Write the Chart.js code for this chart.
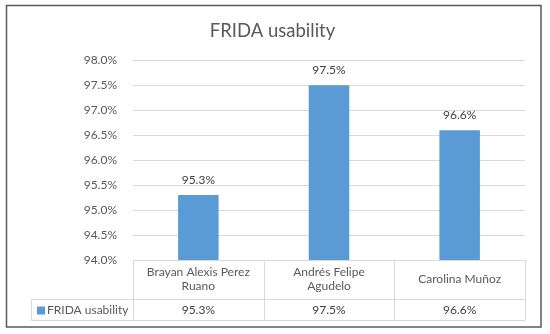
<!DOCTYPE html>
<html lang="en">
  <head>
    <meta charset="UTF-8" />
    <title>FRIDA usability</title>
    <script src="https://cdn.jsdelivr.net/npm/chart.js"></script>
    <style>
      body {
        margin: 0;
        background: #fff;
      }
      .chart-container {
        width: 550px;
        height: 334px;
      }
    </style>
  </head>
  <body>
    <div class="chart-container">
      <canvas id="usabilityChart"></canvas>
    </div>

    <script>
      // data
      const categories = ["Brayan Alexis Perez Ruano", "Andrés Felipe Agudelo", "Carolina Muñoz"];
      const seriesName = "FRIDA usability";
      const usability = [95.3, 97.5, 96.6];
      const yTicks = [94.0, 94.5, 95.0, 95.5, 96.0, 96.5, 97.0, 97.5, 98.0];

      const FONT = "Lato, 'Open Sans', sans-serif";
      const BLUE = "#5b9bd5";
      const GREY = "#595959";
      const LINE = "#d9d9d9";

      const pct = (v) => v.toFixed(1) + "%";

      function wrap(ctx, text, maxWidth) {
        const words = text.split(" ");
        const lines = [];
        let cur = "";
        words.forEach((w) => {
          const test = cur ? cur + " " + w : w;
          if (ctx.measureText(test).width > maxWidth && cur) {
            lines.push(cur);
            cur = w;
          } else {
            cur = test;
          }
        });
        if (cur) lines.push(cur);
        return lines;
      }

      // white background + outer frame
      const framePlugin = {
        id: "frame",
        beforeDraw(chart) {
          const ctx = chart.ctx;
          ctx.save();
          ctx.fillStyle = "#fff";
          ctx.fillRect(0, 0, chart.width, chart.height);
          ctx.strokeStyle = "#5a5a5a";
          ctx.lineWidth = 1.5;
          ctx.strokeRect(6.5, 5.5, 534.5, 321.5);
          ctx.restore();
        },
      };

      // value labels above bars
      const valueLabels = {
        id: "valueLabels",
        afterDatasetsDraw(chart) {
          const ctx = chart.ctx;
          const meta = chart.getDatasetMeta(0);
          ctx.save();
          ctx.font = "12px " + FONT;
          ctx.fillStyle = "#404040";
          ctx.textAlign = "center";
          ctx.textBaseline = "bottom";
          meta.data.forEach((bar, i) => {
            ctx.fillText(pct(usability[i]), bar.x, bar.y - 9);
          });
          ctx.restore();
        },
      };

      // Excel-like data table under the plot
      const dataTable = {
        id: "dataTable",
        afterDraw(chart) {
          const ctx = chart.ctx;
          const xs = chart.scales.x;
          const area = chart.chartArea;
          const colW = xs.getPixelForValue(1) - xs.getPixelForValue(0);
          const top = area.bottom;
          const mid = top + 39;
          const bottom = mid + 21;
          const legendLeft = 31;

          ctx.save();
          ctx.strokeStyle = LINE;
          ctx.lineWidth = 1;
          ctx.beginPath();
          ctx.moveTo(area.left, top + 0.5);
          ctx.lineTo(area.right, top + 0.5);
          ctx.moveTo(legendLeft, mid + 0.5);
          ctx.lineTo(area.right, mid + 0.5);
          ctx.moveTo(legendLeft, bottom + 0.5);
          ctx.lineTo(area.right, bottom + 0.5);
          ctx.moveTo(legendLeft + 0.5, mid);
          ctx.lineTo(legendLeft + 0.5, bottom);
          for (let i = 0; i <= categories.length; i++) {
            const x = Math.round(area.left + i * colW) + 0.5;
            ctx.moveTo(x, top);
            ctx.lineTo(x, bottom);
          }
          ctx.stroke();

          ctx.font = "12px " + FONT;
          ctx.textAlign = "center";
          ctx.textBaseline = "middle";
          categories.forEach((c, i) => {
            const cx = xs.getPixelForValue(i);
            const lines = wrap(ctx, c, colW - 20);
            const lh = 14;
            const y0 = (top + mid) / 2 - ((lines.length - 1) * lh) / 2;
            ctx.fillStyle = GREY;
            lines.forEach((l, k) => ctx.fillText(l, cx, y0 + k * lh));
            ctx.fillStyle = "#404040";
            ctx.fillText(pct(usability[i]), cx, (mid + bottom) / 2 + 1);
          });

          // legend key
          ctx.fillStyle = BLUE;
          ctx.fillRect(legendLeft + 6, (mid + bottom) / 2 - 3, 8, 8);
          ctx.fillStyle = GREY;
          ctx.textAlign = "left";
          ctx.fillText(seriesName, legendLeft + 16, (mid + bottom) / 2 + 1);
          ctx.restore();
        },
      };

      const ctx = document.getElementById("usabilityChart").getContext("2d");
      new Chart(ctx, {
        type: "bar",
        data: {
          labels: categories,
          datasets: [
            {
              label: seriesName,
              data: usability,
              backgroundColor: BLUE,
              borderWidth: 0,
              barPercentage: 0.31,
              categoryPercentage: 1,
            },
          ],
        },
        options: {
          responsive: true,
          maintainAspectRatio: false,
          animation: false,
          layout: {
            padding: { left: 20, right: 25, top: 0, bottom: 74 },
          },
          plugins: {
            legend: { display: false },
            tooltip: { enabled: false },
            title: {
              display: true,
              text: seriesName,
              color: GREY,
              font: { family: FONT, size: 18.5, weight: "normal" },
              padding: { top: 20, bottom: 18 },
            },
          },
          scales: {
            x: {
              display: false,
            },
            y: {
              min: yTicks[0],
              max: yTicks[yTicks.length - 1],
              afterBuildTicks: (scale) => {
                scale.ticks = yTicks.map((v) => ({ value: v }));
              },
              afterFit: (scale) => {
                scale.width = 113;
              },
              border: { display: false },
              grid: { color: LINE, drawTicks: false },
              ticks: {
                padding: 16,
                color: GREY,
                font: { family: FONT, size: 12 },
                callback: (v) => pct(v),
              },
            },
          },
        },
        plugins: [framePlugin, valueLabels, dataTable],
      });
    </script>
  </body>
</html>
